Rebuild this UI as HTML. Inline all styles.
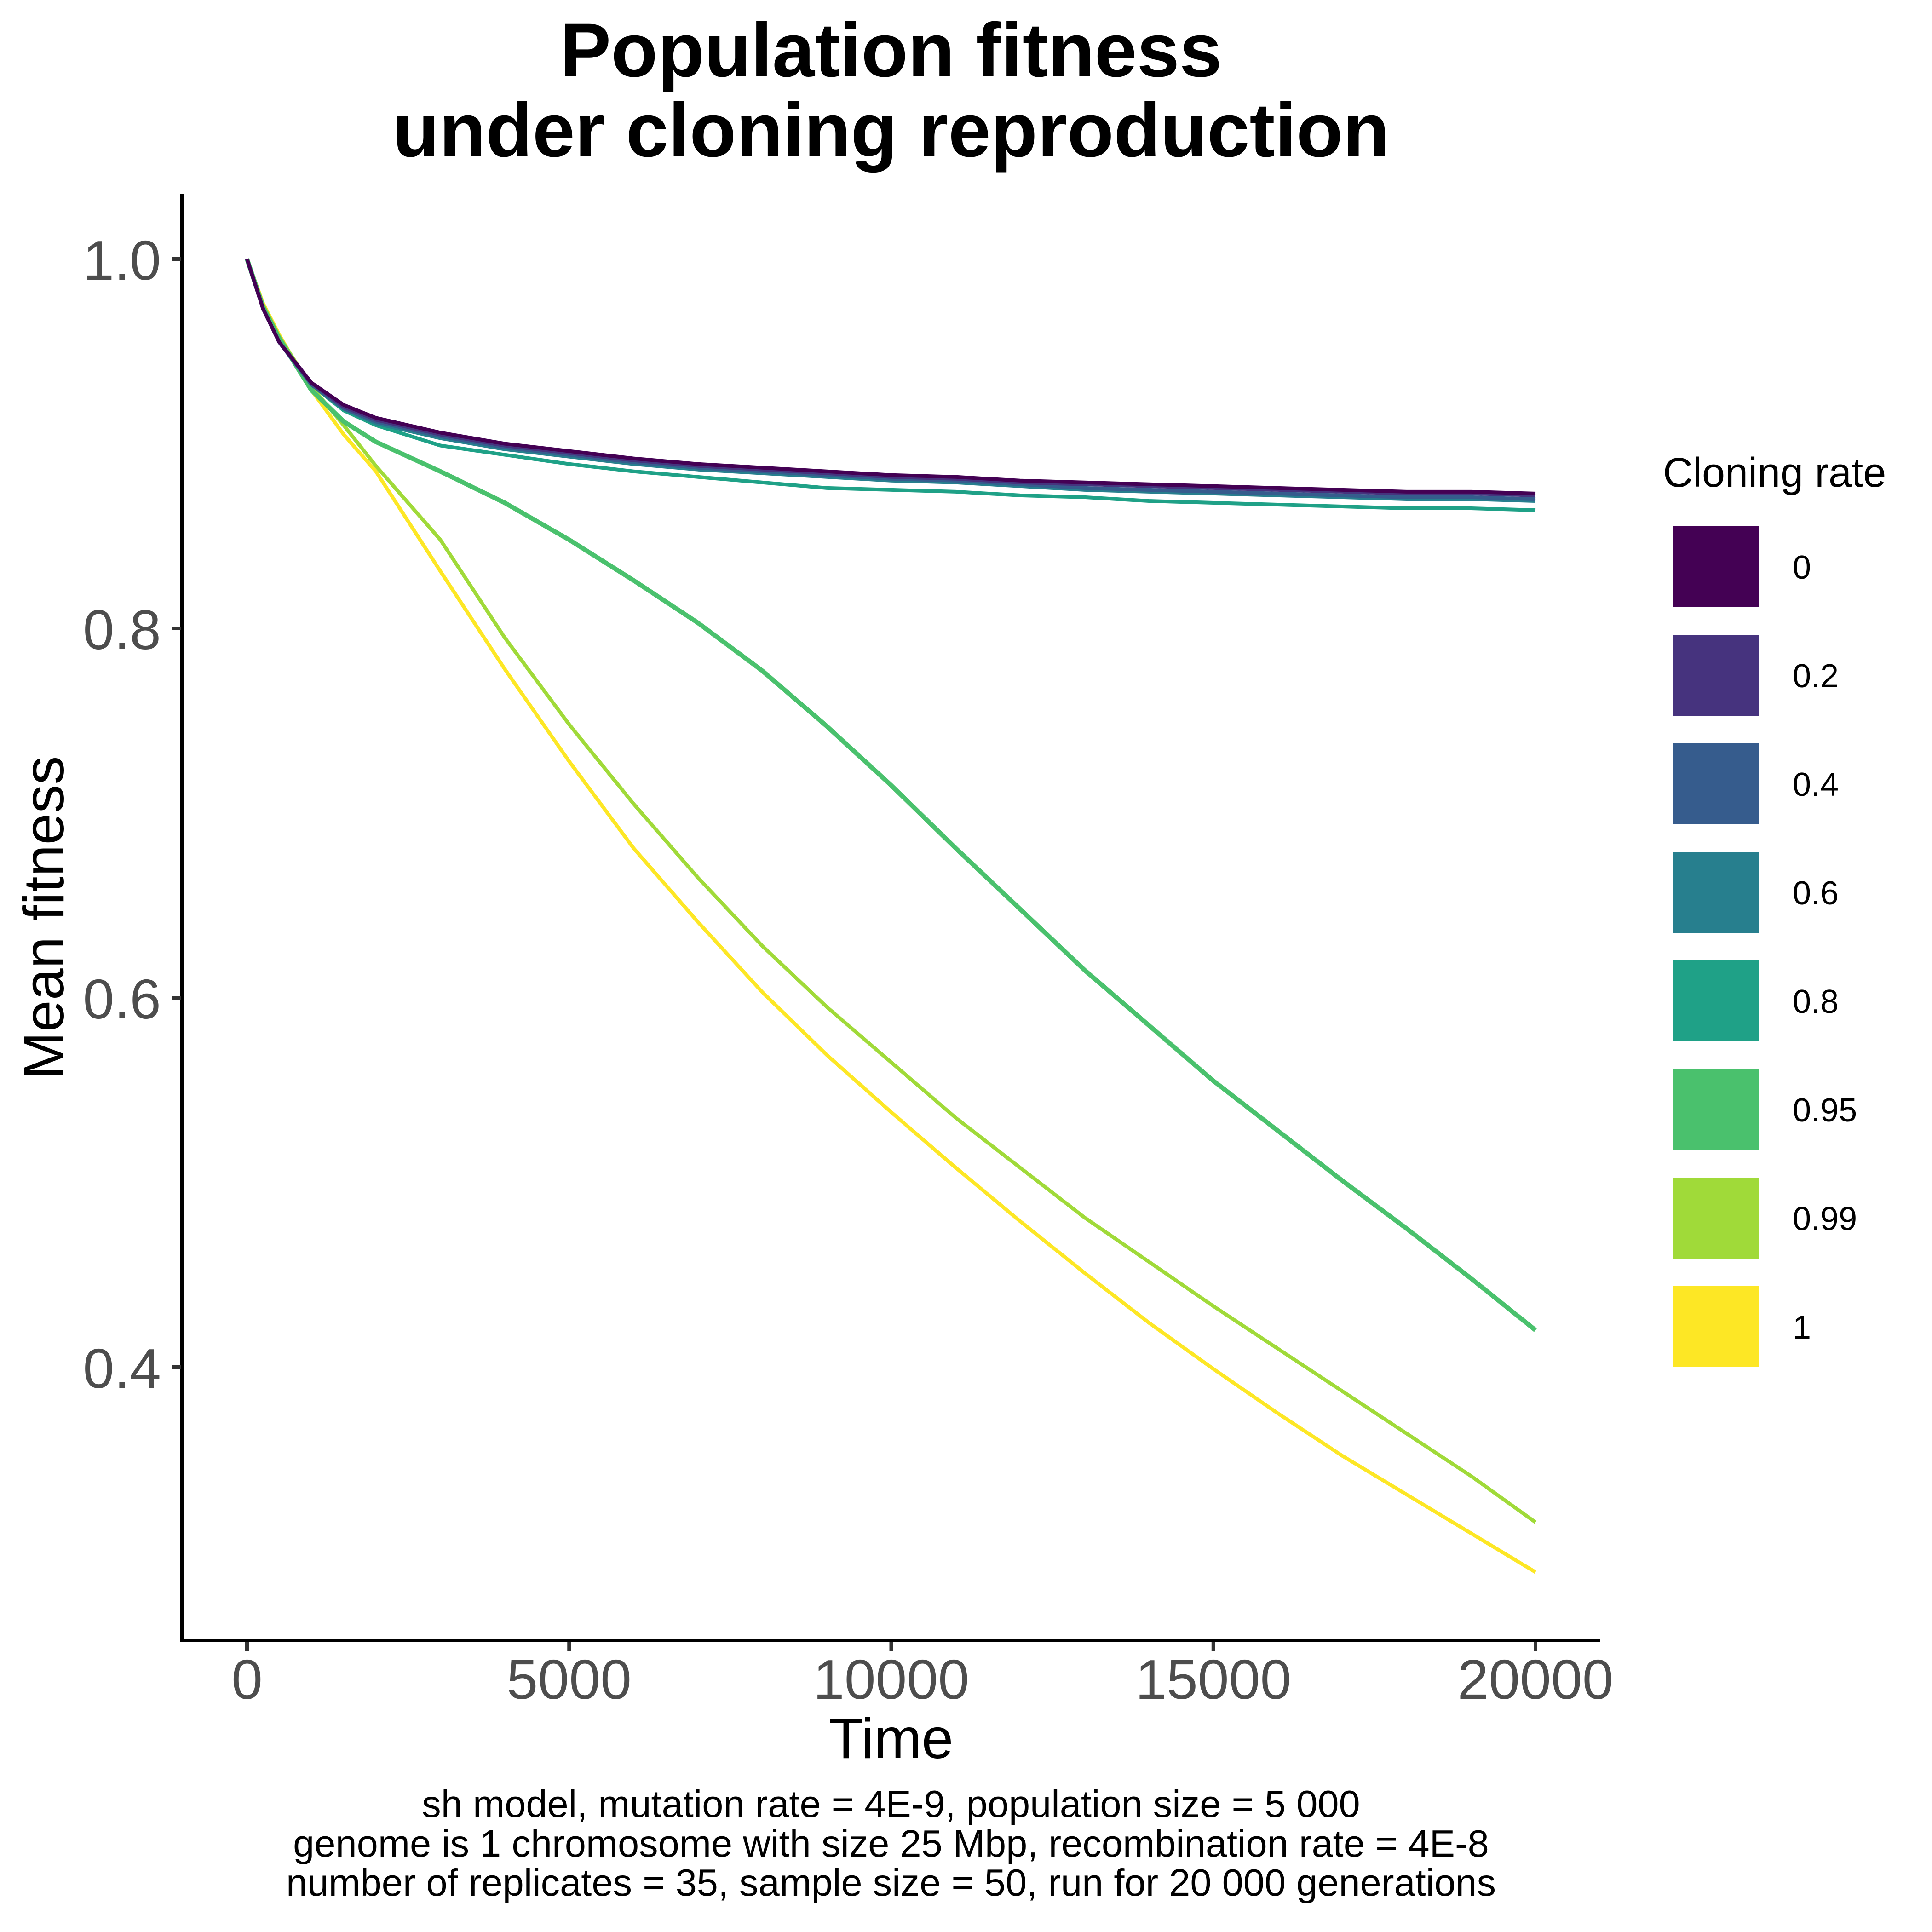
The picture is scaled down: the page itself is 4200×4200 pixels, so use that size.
<!DOCTYPE html>
<html><head><meta charset="utf-8"><style>
html,body{margin:0;padding:0;background:#fff;}
svg{display:block;}
text{font-family:"Liberation Sans",sans-serif;}
</style></head><body>
<svg id="chart" width="4200" height="4200" viewBox="0 0 4200 4200" xmlns="http://www.w3.org/2000/svg">
<text x="1937" y="166" text-anchor="middle" font-size="166" font-weight="bold">Population fitness</text>
<text x="1937" y="340" text-anchor="middle" font-size="166" font-weight="bold">under cloning reproduction</text>
<g id="series"></g>
<line x1="396" y1="422" x2="396" y2="3570" stroke="#000" stroke-width="8"/>
<line x1="392" y1="3566" x2="3478" y2="3566" stroke="#000" stroke-width="8"/>
<g id="xticks"></g>
<g id="yticks"></g>
<text x="1937" y="3822" text-anchor="middle" font-size="124">Time</text>
<text transform="translate(138,1995) rotate(-90)" text-anchor="middle" font-size="124">Mean fitness</text>
<text x="3615" y="1058" font-size="90">Cloning rate</text>
<g id="legend"></g>
<g font-size="83" text-anchor="middle">
<text x="1937" y="3950">sh model, mutation rate = 4E-9, population size = 5 000</text>
<text x="1937" y="4036">genome is 1 chromosome with size 25 Mbp, recombination rate = 4E-8</text>
<text x="1937" y="4121">number of replicates = 35, sample size = 50, run for 20 000 generations</text>
</g>
</svg>
<script>
const times=[0,250,500,1000,1500,2000,3000,4000,5000,6000,7000,8000,9000,10000,11000,12000,13000,14000,15000,16000,17000,18000,19000,20000];
const rates=["0","0.2","0.4","0.6","0.8","0.95","0.99","1"];
const colors=["#440154","#46337E","#365C8D","#277F8E","#1FA187","#4AC16D","#A0DA39","#FDE725"];
const s0=[1,0.973,0.955,0.933,0.921,0.914,0.906,0.900,0.896,0.892,0.889,0.887,0.885,0.883,0.882,0.880,0.879,0.878,0.877,0.876,0.875,0.874,0.874,0.873];
const s02=[1,0.973,0.955,0.933,0.920,0.913,0.905,0.899,0.895,0.891,0.888,0.886,0.884,0.882,0.881,0.879,0.878,0.877,0.876,0.875,0.874,0.873,0.873,0.872];
const s04=[1,0.973,0.955,0.932,0.919,0.912,0.904,0.898,0.894,0.890,0.887,0.885,0.883,0.881,0.880,0.878,0.876,0.875,0.874,0.873,0.872,0.871,0.871,0.870];
const s06=[1,0.973,0.955,0.932,0.919,0.911,0.903,0.897,0.893,0.889,0.886,0.884,0.882,0.880,0.879,0.877,0.875,0.874,0.873,0.872,0.871,0.870,0.870,0.869];
const s08=[1,0.973,0.955,0.932,0.918,0.910,0.899,0.894,0.889,0.885,0.882,0.879,0.876,0.875,0.874,0.872,0.871,0.869,0.868,0.867,0.866,0.865,0.865,0.864];
const s095=[1,0.974,0.957,0.929,0.912,0.901,0.885,0.868,0.848,0.826,0.803,0.777,0.747,0.715,0.681,0.648,0.615,0.585,0.555,0.528,0.501,0.475,0.448,0.42];
const s099=[1,0.975,0.958,0.931,0.910,0.888,0.848,0.795,0.748,0.705,0.665,0.628,0.595,0.565,0.535,0.508,0.481,0.457,0.433,0.410,0.387,0.364,0.341,0.316];
const s1=[1,0.976,0.959,0.929,0.905,0.885,0.831,0.778,0.728,0.681,0.641,0.603,0.569,0.538,0.508,0.479,0.451,0.424,0.399,0.375,0.352,0.331,0.310,0.289];
const xTicks=[0,5000,10000,15000,20000];
const yTicks=[0.4,0.6,0.8,1.0];
const yTickLabels=["0.4","0.6","0.8","1.0"];
const series=[s0,s02,s04,s06,s08,s095,s099,s1];
const NS="http://www.w3.org/2000/svg";
const X=t=>537+t*0.14005;
const Y=v=>563+(1-v)*4015;
const g=document.getElementById('series');
for(let i=series.length-1;i>=0;i--){
  const p=document.createElementNS(NS,'path');
  
  
  p.setAttribute('d',series[i].map((v,j)=>(j?'L':'M')+X(times[j]).toFixed(1)+' '+Y(v).toFixed(1)).join(''));
  p.setAttribute('fill','none');p.setAttribute('stroke',colors[i]);p.setAttribute('stroke-width',i===5?'10':'8');p.setAttribute('stroke-linejoin','round');
  g.appendChild(p);
}
const xt=document.getElementById('xticks');
xTicks.forEach(t=>{
  const l=document.createElementNS(NS,'line');
  
  
  l.setAttribute('x1',X(t));l.setAttribute('x2',X(t));l.setAttribute('y1',3570);l.setAttribute('y2',3589);l.setAttribute('stroke','#333');l.setAttribute('stroke-width','8');
  xt.appendChild(l);
  const tx=document.createElementNS(NS,'text');
  
  
  tx.setAttribute('x',X(t));tx.setAttribute('y',3693);tx.setAttribute('text-anchor','middle');tx.setAttribute('font-size','122');tx.setAttribute('fill','#4d4d4d');
  tx.textContent=String(t);xt.appendChild(tx);
});
const yt=document.getElementById('yticks');
yTicks.forEach((v,i)=>{
  const l=document.createElementNS(NS,'line');
  
  
  l.setAttribute('x1',373);l.setAttribute('x2',393);l.setAttribute('y1',Y(v));l.setAttribute('y2',Y(v));l.setAttribute('stroke','#333');l.setAttribute('stroke-width','8');
  yt.appendChild(l);
  const tx=document.createElementNS(NS,'text');
  
  
  tx.setAttribute('x',350);tx.setAttribute('y',Y(v)+45);tx.setAttribute('text-anchor','end');tx.setAttribute('font-size','122');tx.setAttribute('fill','#4d4d4d');
  tx.textContent=yTickLabels[i];yt.appendChild(tx);
});
const lg=document.getElementById('legend');
rates.forEach((r,i)=>{
  const cy=1232+i*236;
  const rc=document.createElementNS(NS,'rect');
  
  
  rc.setAttribute('x',3637);rc.setAttribute('y',cy-88);rc.setAttribute('width',187);rc.setAttribute('height',176);rc.setAttribute('fill',colors[i]);
  lg.appendChild(rc);
  const tx=document.createElementNS(NS,'text');
  
  
  tx.setAttribute('x',3897);tx.setAttribute('y',cy+26);tx.setAttribute('font-size','72');
  tx.textContent=r;lg.appendChild(tx);
});
</script>
</body></html>
